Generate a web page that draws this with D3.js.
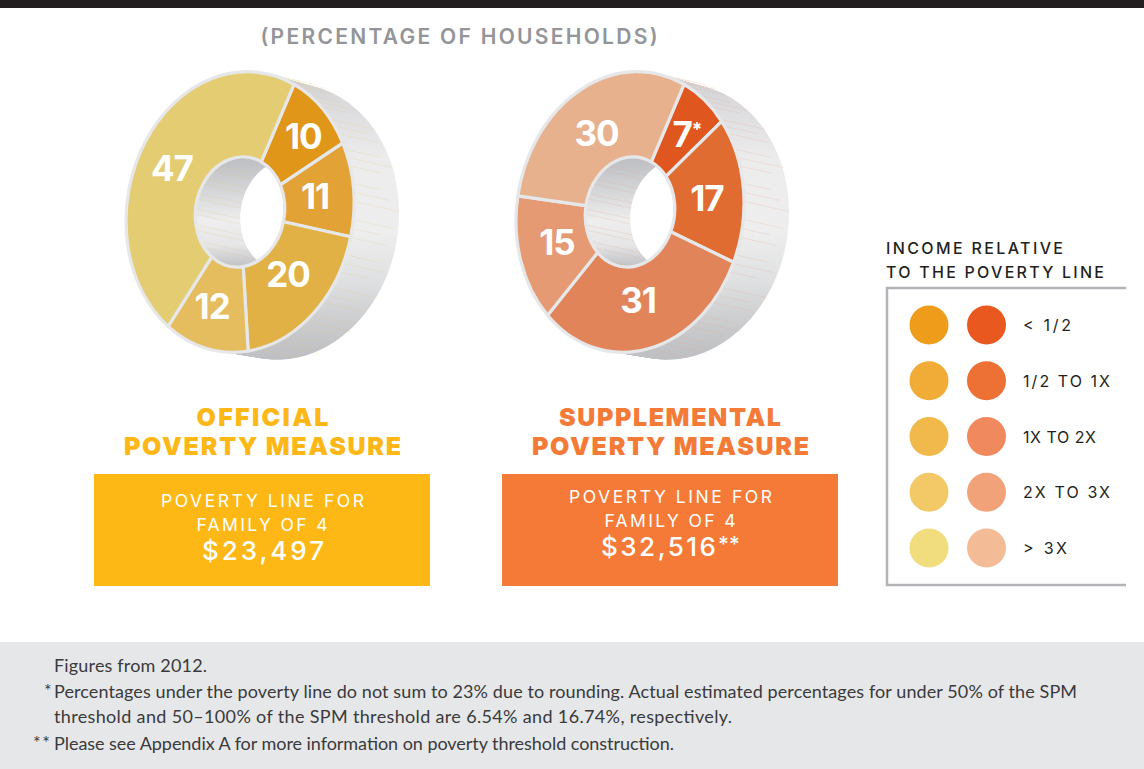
<!DOCTYPE html>
<html><head><meta charset="utf-8">
<script src="https://cdn.jsdelivr.net/npm/d3@7/dist/d3.min.js"></script>
<style>html,body{margin:0;padding:0;background:#fff}svg{display:block}</style></head>
<body><svg id="c" width="1144" height="769"></svg>
<script>
const officialLabels = ["10","11","20","12","47"];
const officialValues = [10,11,20,12,47];
const officialColors = ["#df9619","#e2a236","#e2b146","#e5bd5e","#e4cc73"];
const supplementalLabels = ["7","17","31","15","30"];
const supplementalValues = [7,17,31,15,30];
const supplementalColors = ["#df561f","#e06c31","#e1845a","#e59a74","#e7b18e"];
const legendLabels = ["< 1/2","1/2 TO 1X","1X TO 2X","2X TO 3X","> 3X"];
const legendOfficial = ["#ef9c1b","#f0ac37","#f1b94c","#f3c968","#f1dc7e"];
const legendSupplemental = ["#e9581f","#ed7035","#f0895e","#f2a278","#f4bc96"];
const officialNudge = [[6,-8],[-4,-5],[-3,-12],[-4,2],[-2,11]];
const supplementalNudge = [[5,-3],[-2,-3],[-5,-7],[3,3],[1,10]];

const svg = d3.select("#c");
const HEAD = "Inter, sans-serif", BODY = "Lato, sans-serif";
const defs = svg.append("defs");
function grad(id, y1, y2, stops){
  const g = defs.append("linearGradient").attr("id",id).attr("gradientUnits","userSpaceOnUse")
    .attr("x1",0).attr("x2",0).attr("y1",y1).attr("y2",y2);
  stops.forEach(s=>g.append("stop").attr("offset",s[0]).attr("stop-color",s[1]));
}
grad("side",72,362,[[0,"#cfcfd2"],[.12,"#dcdcde"],[.3,"#ececed"],[.55,"#eeeeee"],[.72,"#dfe0e1"],[.88,"#c9cacc"],[1,"#bdbec1"]]);
grad("wall",157,267,[[0,"#bcbdc1"],[.3,"#d4d5d7"],[.58,"#eeeeee"],[.8,"#e6e6e7"],[1,"#bfc0c3"]]);

svg.append("rect").attr("x",0).attr("y",0).attr("width",1144).attr("height",8).attr("fill","#231f20");
svg.append("rect").attr("x",0).attr("y",642).attr("width",1144).attr("height",127).attr("fill","#e6e7e8");

function txt(s,x,y,o){
  const t = svg.append("text").attr("x",x).attr("y",y).text(s)
    .attr("font-family",o.family||HEAD).attr("font-size",o.size).attr("font-weight",o.weight||400)
    .attr("fill",o.fill).attr("text-anchor",o.anchor||"start");
  if(o.width) t.attr("textLength",o.width).attr("lengthAdjust","spacing");
  return t;
}
txt("(PERCENTAGE OF HOUSEHOLDS)",459,44,{size:21,weight:600,fill:"#939598",anchor:"middle",width:397});

const RY=140, RX=114, IY=55, DX=45, DY=10, SX=RX/RY, SHEAR=0.08;
const START=28.3*Math.PI/180;
const pie = d3.pie().sort(null).startAngle(START).endAngle(START+2*Math.PI);
const arc = d3.arc().innerRadius(IY).outerRadius(RY);
const closedLine = d3.line().curve(d3.curveLinearClosed);
const TURN = d3.range(0,360,2).map(d=>d*Math.PI/180);
const rimPoint = (x,y,rx,ry,a)=>[x+rx*Math.sin(a), y-ry*Math.cos(a)-SHEAR*rx*Math.sin(a)];
const ellPath = (x,y,rx,ry)=>closedLine(TURN.map(a=>rimPoint(x,y,rx,ry,a)));

function donut(cx,cy,values,colors,labels,nudge,id,streak,star){
  // extruded side
  const sideG = svg.append("g");
  d3.range(DX,-1,-1).forEach(i=>{
    sideG.append("path").attr("d",ellPath(cx+i,cy+i*DY/DX,RX,RY-i*0.06)).attr("fill","url(#side)");
  });
  // streaks on the side
  d3.range(8,172,3.7).forEach((deg,k)=>{
    if(k%4===3) return;
    const p=rimPoint(cx,cy,RX,RY,deg*Math.PI/180);
    const f=0.62+0.38*((k*7)%5)/4;
    sideG.append("line").attr("x1",p[0]).attr("y1",p[1]).attr("x2",p[0]+DX*f).attr("y2",p[1]+DY*f)
      .attr("stroke",streak).attr("stroke-width",.7).attr("stroke-opacity",.3);
  });
  sideG.append("path").attr("d",ellPath(cx,cy,RX+1,RY+1)).attr("fill","#e6e7e8");
  // hole wall
  const clipId="hole"+id;
  defs.append("clipPath").attr("id",clipId).append("path").attr("d",ellPath(cx,cy,IY*SX,IY));
  const hole = svg.append("g").attr("clip-path",`url(#${clipId})`);
  hole.append("rect").attr("x",cx-60).attr("y",cy-60).attr("width",120).attr("height",120).attr("fill","url(#wall)");
  d3.range(-52,54,5.3).forEach((dy,k)=>{
    if(k%3===2) return;
    hole.append("line").attr("x1",cx-50).attr("y1",cy+dy).attr("x2",cx+10).attr("y2",cy+dy+13)
      .attr("stroke",streak).attr("stroke-width",.7).attr("stroke-opacity",.3);
  });
  hole.append("path").attr("d",ellPath(cx+DX,cy+DY*0.3,IY*SX,IY)).attr("fill","#fff");
  // slices
  const g = svg.append("g").attr("transform",`translate(${cx},${cy})`);
  const arcs = pie(values);
  const sg = g.append("g").attr("transform",`matrix(${SX},${-SHEAR*SX},0,1,0,0)`);
  sg.selectAll("path").data(arcs).join("path").attr("d",arc)
    .attr("fill",(d,i)=>colors[i]).attr("stroke","#e6e7e8").attr("stroke-width",3.2)
    .attr("vector-effect","non-scaling-stroke").attr("stroke-linejoin","round");
  arcs.forEach((d,i)=>{
    const c = arc.centroid(d);
    const x = c[0]*SX+nudge[i][0], y = c[1]+nudge[i][1];
    const t = g.append("text").attr("x",x).attr("y",y+12).attr("text-anchor","middle")
      .attr("font-family",HEAD).attr("font-weight",700).attr("font-size",35).attr("letter-spacing",-1)
      .attr("fill","#fff").text(labels[i]);
    if(star===i) t.append("tspan").attr("font-size",19).attr("dy",-11).text("*");
  });
}
donut(240,212,officialValues,officialColors,officialLabels,officialNudge,"a","#e6c37a",-1);
donut(630,212,supplementalValues,supplementalColors,supplementalLabels,supplementalNudge,"b","#e8a585",0);

// titles and boxes
txt("OFFICIAL",262.5,426,{size:25,weight:900,fill:"#fdb716",anchor:"middle",width:132});
txt("POVERTY MEASURE",262.5,455,{size:25,weight:900,fill:"#fdb716",anchor:"middle",width:277});
txt("SUPPLEMENTAL",670,426,{size:25,weight:900,fill:"#f47b37",anchor:"middle",width:222});
txt("POVERTY MEASURE",670.5,455,{size:25,weight:900,fill:"#f47b37",anchor:"middle",width:277});
svg.append("rect").attr("x",94).attr("y",474).attr("width",336).attr("height",112).attr("fill","#fdb816");
svg.append("rect").attr("x",502).attr("y",474).attr("width",336).attr("height",112).attr("fill","#f57a38");
txt("POVERTY LINE FOR",262.5,507,{size:17.5,fill:"#fff",anchor:"middle",width:203});
txt("FAMILY OF 4",262,531,{size:17.5,fill:"#fff",anchor:"middle",width:131});
txt("$23,497",263,560,{size:26,weight:500,fill:"#fff",anchor:"middle",width:122});
txt("POVERTY LINE FOR",670.5,503,{size:17.5,fill:"#fff",anchor:"middle",width:203});
txt("FAMILY OF 4",670,527,{size:17.5,fill:"#fff",anchor:"middle",width:131});
txt("$32,516",658.5,556,{size:26,weight:500,fill:"#fff",anchor:"middle",width:115});
txt("**",729,552,{size:21,weight:500,fill:"#fff",anchor:"middle",width:22});

// legend
txt("INCOME RELATIVE",886,254,{size:16,weight:500,fill:"#231f20",width:177});
txt("TO THE POVERTY LINE",886,278,{size:16,weight:500,fill:"#231f20",width:218});
svg.append("path").attr("d","M1126,288H887V585H1126").attr("fill","none").attr("stroke","#b1b3b6").attr("stroke-width",2.5);
const ly = d3.scalePoint().domain(legendLabels).range([325,548]);
const legendWidths=[48,87,73,87,44];
legendLabels.forEach((l,i)=>{
  svg.append("circle").attr("cx",929).attr("cy",ly(l)).attr("r",19.5).attr("fill",legendOfficial[i]);
  svg.append("circle").attr("cx",986.5).attr("cy",ly(l)).attr("r",19.5).attr("fill",legendSupplemental[i]);
  txt(l,1023,ly(l)+6,{size:16,fill:"#231f20",width:legendWidths[i]});
});

// notes
const F={family:BODY,size:18,fill:"#3a3a3c"};
txt("Figures from 2012.",54,672,{...F,width:153});
txt("*",44,697,{...F});
txt("Percentages under the poverty line do not sum to 23% due to rounding. Actual estimated percentages for under 50% of the SPM",54,698,{...F,width:1023});
txt("threshold and 50–100% of the SPM threshold are 6.54% and 16.74%, respectively.",54,723,{...F,width:678});
txt("**",33,749,{...F,width:17});
txt("Please see Appendix A for more information on poverty threshold construction.",54,750,{...F,width:620});
</script></body></html>
